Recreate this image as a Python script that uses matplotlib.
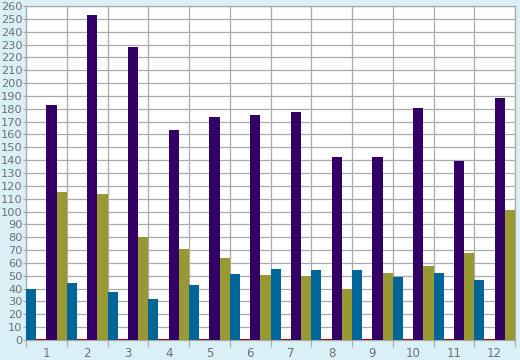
import numpy as np
import matplotlib
matplotlib.use("Agg")
import matplotlib.pyplot as plt

groups = ["1", "2", "3", "4", "5", "6", "7", "8", "9", "10", "11", "12"]
blue_vals = [39.5, 44, 37, 32, 42.5, 51, 55, 54.5, 54.5, 49, 52, 46.5]
red_vals = [1, 1, 1, 1, 1, 1, 1, 1, 1, 1, 1, 1]
purple_vals = [183, 253, 228, 163.5, 173.5, 175, 177.5, 142.5, 142.5, 180.5, 139, 188]
olive_vals = [115, 114, 80.5, 70.5, 63.5, 50.5, 50, 39.5, 52.5, 57.5, 68, 101]

bg = "#d9f0f7"
grid_col = "#aaaaaa"
text_col = "#707070"

fig = plt.figure(figsize=(5.2, 3.6), dpi=100, facecolor=bg)
ax = fig.add_axes([26 / 520, 20 / 360, 489 / 520, 334 / 360])
ax.set_facecolor("white")

x = np.arange(len(groups))
w = 0.25
series = [(blue_vals, "#006699"), (red_vals, "#aa0000"),
          (purple_vals, "#330066"), (olive_vals, "#999933")]
for k, (vals, col) in enumerate(series):
    ax.bar(x + w * (k + 0.5), vals, width=w, color=col, linewidth=0, zorder=3)

ax.set_xlim(0, len(groups))
ax.set_ylim(0, 260)
ax.set_yticks(range(0, 261, 10))
ax.set_xticks(range(0, len(groups) + 1))
ax.set_xticklabels([])
ax.set_xticks(x + 0.5, minor=True)
ax.set_xticklabels(groups, minor=True)

ax.grid(True, which="major", color=grid_col, linewidth=0.9, zorder=1)
ax.tick_params(axis="x", which="major", length=5, color=grid_col, width=0.9)
ax.tick_params(axis="x", which="minor", length=0, pad=5, labelsize=8.5, labelcolor=text_col)
ax.tick_params(axis="y", length=2, color=grid_col, width=0.9, pad=0.5,
               labelsize=8.2, labelcolor=text_col)
for s in ax.spines.values():
    s.set_color(grid_col)
    s.set_linewidth(0.9)

fig.savefig("out.png", dpi=100, facecolor=bg)
